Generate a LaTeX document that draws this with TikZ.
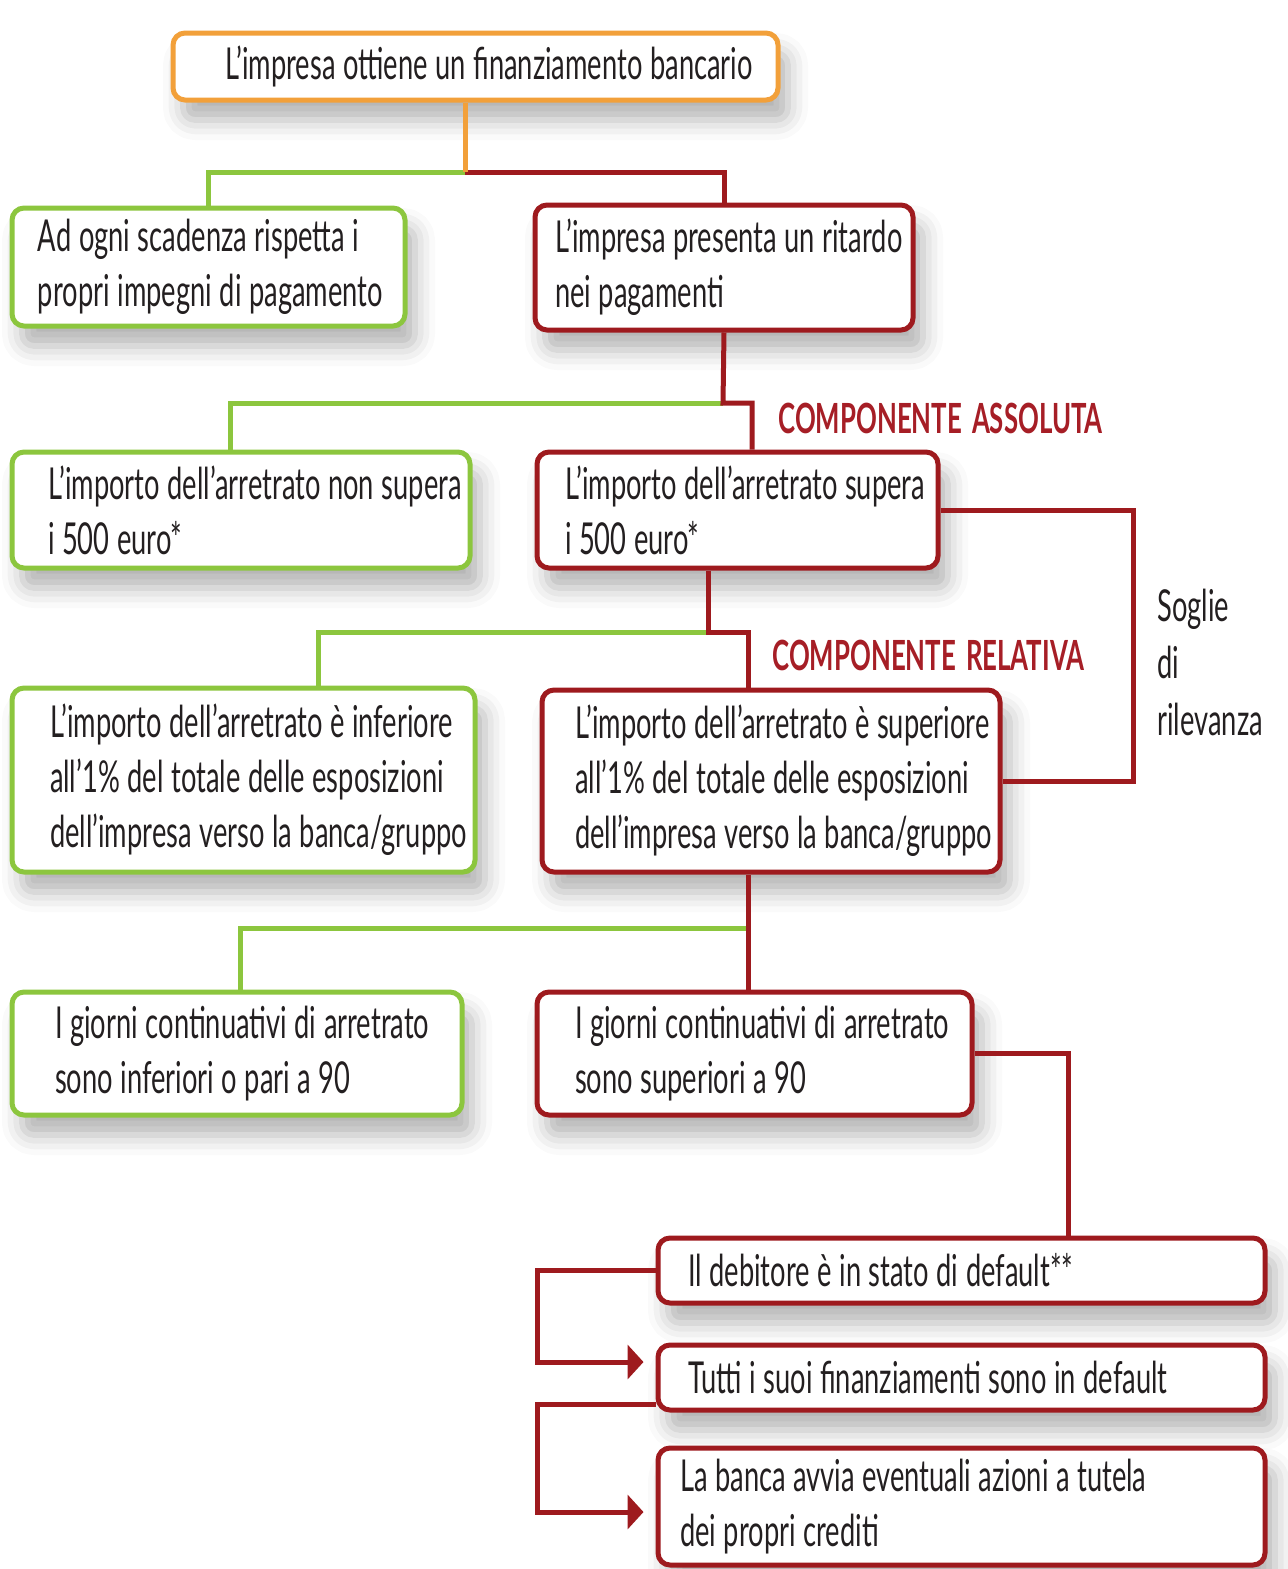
\documentclass[tikz,border=0pt]{standalone}
\usepackage{fontspec}
\setmainfont{Lato}[FakeStretch=0.62]
\usetikzlibrary{shadows.blur,arrows.meta}
\definecolor{cOr}{HTML}{F2A03A}
\definecolor{cGr}{HTML}{8CC63E}
\definecolor{cRd}{HTML}{9E1A1E}
\definecolor{cLb}{HTML}{A61E26}
\definecolor{cTx}{HTML}{231F20}
\newcommand\myboxfont{\fontsize{22}{27.5}\selectfont}
\newcommand\mywordgap{\spaceskip 3.8pt plus 1pt minus 0.5pt\relax}
\newcommand\mylabfont{\bfseries\fontsize{20.8}{21}\selectfont\spaceskip 5pt plus 1pt minus 1pt\relax}
\newcommand\mynotefont{\fontsize{22}{28.5}\selectfont}
\begin{document}
\begin{tikzpicture}[x=0.5pt,y=-0.5pt,
  box/.style={draw, line width=2.5pt, rounded corners=6pt, fill=white,
    blur shadow={shadow xshift=5pt, shadow yshift=-10pt, shadow blur radius=10pt, shadow opacity=30},
    align=left, font=\myboxfont, execute at begin node=\mywordgap, text=cTx, inner ysep=0pt},
  obox/.style={box, draw=cOr},
  gbox/.style={box, draw=cGr},
  rbox/.style={box, draw=cRd},
  oline/.style={draw=cOr, line width=2.5pt},
  gline/.style={draw=cGr, line width=2.5pt},
  rline/.style={draw=cRd, line width=2.5pt},
  tip/.style={-{Triangle[width=17pt,length=8pt]}, shorten >=6pt},
  comp/.style={font=\mylabfont, text=cLb, anchor=west, inner sep=0pt},
  note/.style={font=\mynotefont, text=cTx, align=left, anchor=west, inner sep=0pt}
]
\useasboundingbox (0,0) rectangle (1287,1569);

% boxes
\node[obox, minimum height=33.5pt, text width=250.5pt, inner xsep=26pt] (T) at (475.5,66.5)
  {\mbox{L’impresa ottiene un finanziamento bancario}};
\node[gbox, minimum height=59pt, text width=170.5pt, inner xsep=13pt] (A) at (208.5,267)
  {\mbox{Ad ogni scadenza rispetta i}\\\mbox{propri impegni di pagamento}};
\node[rbox, minimum height=62.5pt, text width=169pt, inner xsep=10pt] (B) at (724,267.5)
  {\mbox{L’impresa presenta un ritardo}\\\mbox{nei pagamenti}};
\node[gbox, minimum height=58pt, text width=193pt, inner xsep=18pt] (C) at (241,510)
  {\mbox{L’importo dell’arretrato non supera}\\\mbox{i 500 euro*}};
\node[rbox, minimum height=58pt, text width=172.5pt, inner xsep=14pt] (D) at (737.5,510)
  {\mbox{L’importo dell’arretrato supera}\\\mbox{i 500 euro*}};
\node[gbox, minimum height=92pt, text width=193.5pt, inner xsep=19pt] (E) at (243.5,780)
  {\mbox{L’importo dell’arretrato è inferiore}\\\mbox{all’1\% del totale delle esposizioni}\\\mbox{dell’impresa verso la banca/gruppo}};
\node[rbox, minimum height=91pt, text width=196pt, inner xsep=16.5pt] (F) at (771,781)
  {\mbox{L’importo dell’arretrato è superiore}\\\mbox{all’1\% del totale delle esposizioni}\\\mbox{dell’impresa verso la banca/gruppo}};
\node[gbox, minimum height=61.5pt, text width=182pt, inner xsep=21.5pt] (G) at (237,1053.5)
  {\mbox{I giorni continuativi di arretrato}\\\mbox{sono inferiori o pari a 90}};
\node[rbox, minimum height=61.5pt, text width=179.5pt, inner xsep=19pt] (H) at (754.5,1053.5)
  {\mbox{I giorni continuativi di arretrato}\\\mbox{sono superiori a 90}};
\node[rbox, minimum height=32.5pt, text width=273.5pt, inner xsep=15pt] (I) at (961.5,1270.5)
  {\mbox{Il debitore è in stato di default**}};
\node[rbox, minimum height=32.5pt, text width=273.5pt, inner xsep=15pt] (J) at (961.5,1377.5)
  {\mbox{Tutti i suoi finanziamenti sono in default}};
\node[rbox, minimum height=58.5pt, text width=281.5pt, inner xsep=11pt] (K) at (961.5,1506.5)
  {\mbox{La banca avvia eventuali azioni a tutela}\\\mbox{dei propri crediti}};

% labels
\node[comp] (la) at (778,418) {COMPONENTE ASSOLUTA};
\node[comp] (lr) at (772,655) {COMPONENTE RELATIVA};
\node[note] (sg) at (1157,662) {Soglie\\di\\rilevanza};

% junction coordinates
\coordinate (j1) at (465,172);
\coordinate (j2) at (723,403);
\coordinate (c2) at (230,403);
\coordinate (d2) at (752,403);
\coordinate (j3) at (708,632);
\coordinate (c3) at (318,632);
\coordinate (d3) at (748,632);
\coordinate (j4) at (748,928);
\coordinate (c4) at (240,928);
\coordinate (s1) at (1133,512);
\coordinate (h1) at (1068,1053.5);
\coordinate (v1) at (537,1362);
\coordinate (v2) at (537,1512);

% connectors: level 1
\draw[gline] (j1) -| (A.north);
\draw[rline] (j1) -| (B.north);
\draw[oline] (T.south -| j1) -- (j1);
% level 2
\draw[gline] (j2) -- (c2) -- (c2 |- C.north);
\draw[rline] (B.south) -- (j2) -- (d2) -- (d2 |- D.north);
% soglie bracket
\draw[rline] (D.east) -- (D.east -| s1) -- (s1 |- F.east) -- (F.east);
% level 3
\draw[gline] (j3) -- (c3) -- (c3 |- E.north);
\draw[rline] (j3 |- D.south) -- (j3) -- (d3) -- (d3 |- F.north);
% level 4
\draw[gline] (j4) -- (c4) -- (c4 |- G.north);
\draw[rline] (j4 |- F.south) -- (j4) -- (j4 |- H.north);
% to default
\draw[rline] (H.east) -- (h1) -- (h1 |- I.north);
% arrows
\draw[rline, tip] (I.west) -| (v1) -- (v1 -| J.west);
\draw[rline, tip] ([yshift=4pt]J.south west) -| (v2) -- (v2 -| K.west);
\end{tikzpicture}
\end{document}
